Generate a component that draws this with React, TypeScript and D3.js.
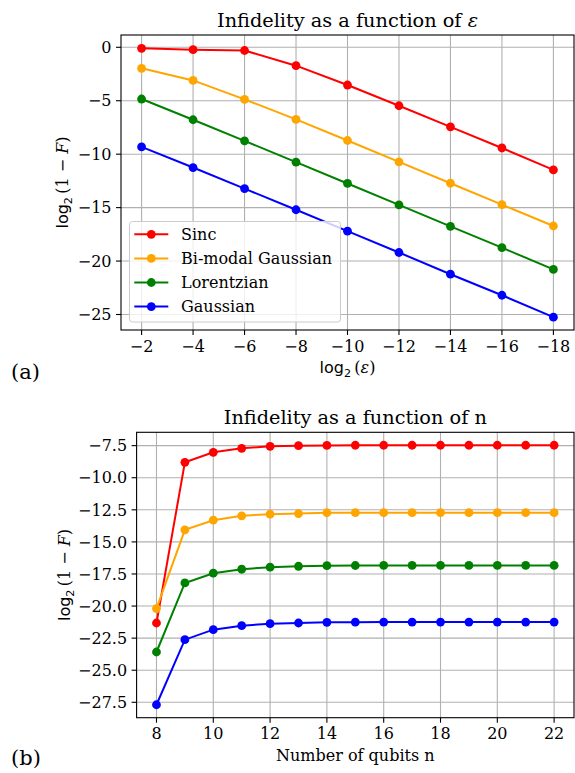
import React from "react";
import * as d3 from "d3";

const epsTicks = [-2, -4, -6, -8, -10, -12, -14, -16, -18];
const sincEps = [-0.1, -0.22, -0.3, -1.72, -3.53, -5.47, -7.44, -9.42, -11.47];
const bimodalEps = [-1.97, -3.1, -4.87, -6.75, -8.72, -10.72, -12.72, -14.72, -16.72];
const lorentzEps = [-4.84, -6.78, -8.75, -10.75, -12.74, -14.75, -16.75, -18.75, -20.78];
const gaussEps = [-9.32, -11.25, -13.22, -15.2, -17.2, -19.2, -21.23, -23.2, -25.25];
const yTicksA = [0, -5, -10, -15, -20, -25];

const qubits = [8, 9, 10, 11, 12, 13, 14, 15, 16, 17, 18, 19, 20, 21, 22];
const sincN = [-21.32, -8.8, -8.02, -7.71, -7.55, -7.5, -7.48, -7.47, -7.47, -7.47, -7.47, -7.47, -7.47, -7.47, -7.47];
const bimodalN = [-20.2, -14.06, -13.31, -12.97, -12.84, -12.79, -12.73, -12.72, -12.72, -12.72, -12.72, -12.72, -12.72, -12.72, -12.72];
const lorentzN = [-23.58, -18.2, -17.44, -17.13, -16.97, -16.9, -16.85, -16.84, -16.83, -16.83, -16.83, -16.83, -16.83, -16.83, -16.83];
const gaussN = [-27.69, -22.62, -21.84, -21.53, -21.37, -21.32, -21.27, -21.26, -21.25, -21.25, -21.25, -21.25, -21.25, -21.25, -21.25];
const xTicksB = [8, 10, 12, 14, 16, 18, 20, 22];
const yTicksB = [-7.5, -10, -12.5, -15, -17.5, -20, -22.5, -25, -27.5];

const seriesNames = ["Sinc", "Bi-modal Gaussian", "Lorentzian", "Gaussian"];
const colors = ["#ff0000", "#ffa500", "#008000", "#0000ff"];

const SERIF = "DejaVu Serif";
const SANS = "DejaVu Sans";
const TICK_FS = 16;
const TITLE_FS = 19.3;

function fmtMinus(v: number, digits: number) {
  const s = digits > 0 ? v.toFixed(digits) : String(v);
  return s.replace("-", "\u2212");
}

type PanelProps = {
  left: number; top: number; right: number; bottom: number;
  xDomain: [number, number]; yDomain: [number, number];
  xs: number[]; series: number[][]; xTicks: number[]; yTicks: number[];
  yDigits: number; title: React.ReactNode; xLabel: React.ReactNode;
  yLabelX: number; legend?: boolean;
};

function Panel(p: PanelProps) {
  const x = d3.scaleLinear().domain(p.xDomain).range([p.left, p.right]);
  const y = d3.scaleLinear().domain(p.yDomain).range([p.bottom, p.top]);
  const line = d3.line<[number, number]>().x(d => x(d[0])).y(d => y(d[1]));
  const cx = (p.left + p.right) / 2;
  const cy = (p.top + p.bottom) / 2;
  return (
    <g>
      {p.xTicks.map(t => (
        <line key={"gx" + t} x1={x(t)} x2={x(t)} y1={p.top} y2={p.bottom} stroke="#b0b0b0" strokeWidth={1.1} />
      ))}
      {p.yTicks.map(t => (
        <line key={"gy" + t} x1={p.left} x2={p.right} y1={y(t)} y2={y(t)} stroke="#b0b0b0" strokeWidth={1.1} />
      ))}
      {p.series.map((s, i) => (
        <g key={"s" + i}>
          <path d={line(s.map((v, j) => [p.xs[j], v]) as [number, number][]) || ""} fill="none" stroke={colors[i]} strokeWidth={2} />
          {s.map((v, j) => (
            <circle key={j} cx={x(p.xs[j])} cy={y(v)} r={4.4} fill={colors[i]} />
          ))}
        </g>
      ))}
      {p.legend && (
        <g>
          <rect x={129.5} y={221.5} width={211} height={100.5} rx={3} fill="white" fillOpacity={0.8} stroke="#cccccc" strokeWidth={1} />
          {seriesNames.map((n, i) => {
            const ly = 234.3 + i * 24.1;
            return (
              <g key={n}>
                <line x1={134.3} x2={168.3} y1={ly} y2={ly} stroke={colors[i]} strokeWidth={2} />
                <circle cx={151.3} cy={ly} r={4.4} fill={colors[i]} />
                <text x={181} y={ly + 5.7} fontFamily={SERIF} fontSize={TICK_FS} fill="#000">{n}</text>
              </g>
            );
          })}
        </g>
      )}
      <rect x={p.left} y={p.top} width={p.right - p.left} height={p.bottom - p.top} fill="none" stroke="#000" strokeWidth={1.1} />
      {p.xTicks.map(t => (
        <g key={"tx" + t}>
          <line x1={x(t)} x2={x(t)} y1={p.bottom} y2={p.bottom + 5} stroke="#000" strokeWidth={1.1} />
          <text x={x(t)} y={p.bottom + 21.7} textAnchor="middle" fontFamily={SERIF} fontSize={TICK_FS} fill="#000">{fmtMinus(t, 0)}</text>
        </g>
      ))}
      {p.yTicks.map(t => (
        <g key={"ty" + t}>
          <line x1={p.left - 5} x2={p.left} y1={y(t)} y2={y(t)} stroke="#000" strokeWidth={1.1} />
          <text x={p.left - 9.5} y={y(t) + 5.7} textAnchor="end" fontFamily={SERIF} fontSize={TICK_FS} fill="#000">{fmtMinus(t, p.yDigits)}</text>
        </g>
      ))}
      <text x={cx} y={p.top - 8} textAnchor="middle" fontFamily={SERIF} fontSize={TITLE_FS} fill="#000">{p.title}</text>
      <text x={cx} y={p.bottom + 43} textAnchor="middle" fontFamily={SERIF} fontSize={TICK_FS} fill="#000">{p.xLabel}</text>
      <text transform={`translate(${p.yLabelX},${cy}) rotate(-90)`} textAnchor="middle" fontFamily={SERIF} fontSize={TICK_FS} fill="#000">
        <tspan fontFamily={SANS}>log</tspan>
        <tspan fontFamily={SANS} fontSize={TICK_FS * 0.7} dy={3.5}>2</tspan>
        <tspan dy={-3.5}>{"\u2009(1 \u2212 "}</tspan>
        <tspan fontStyle="italic">F</tspan>
        <tspan>)</tspan>
      </text>
    </g>
  );
}

export default function App() {
  return (
    <svg width={575} height={773} style={{ position: "absolute", left: 0, top: 0, display: "block" }}>
      <rect width={575} height={773} fill="white" />
      <Panel
        left={121} top={35} right={574} bottom={330}
        xDomain={[-1.2, -18.8]} yDomain={[-26.45, 1.15]}
        xs={epsTicks} series={[sincEps, bimodalEps, lorentzEps, gaussEps]}
        xTicks={epsTicks} yTicks={yTicksA} yDigits={0}
        title={<>Infidelity as a function of <tspan fontStyle="italic">ε</tspan></>}
        xLabel={<><tspan fontFamily={SANS}>log</tspan><tspan fontFamily={SANS} fontSize={TICK_FS * 0.7} dy={3.5}>2</tspan><tspan dy={-3.5}>{"\u2009("}</tspan><tspan fontStyle="italic">ε</tspan><tspan>)</tspan></>}
        yLabelX={68} legend
      />
      <Panel
        left={136.6} top={432.3} right={574} bottom={717.7}
        xDomain={[7.3, 22.7]} yDomain={[-28.7, -6.46]}
        xs={qubits} series={[sincN, bimodalN, lorentzN, gaussN]}
        xTicks={xTicksB} yTicks={yTicksB} yDigits={1}
        title={<>Infidelity as a function of n</>}
        xLabel={<>Number of qubits n</>}
        yLabelX={70}
      />
      <text x={11} y={379} fontFamily={SERIF} fontSize={21} fill="#000">(a)</text>
      <text x={11} y={765} fontFamily={SERIF} fontSize={21} fill="#000">(b)</text>
    </svg>
  );
}
